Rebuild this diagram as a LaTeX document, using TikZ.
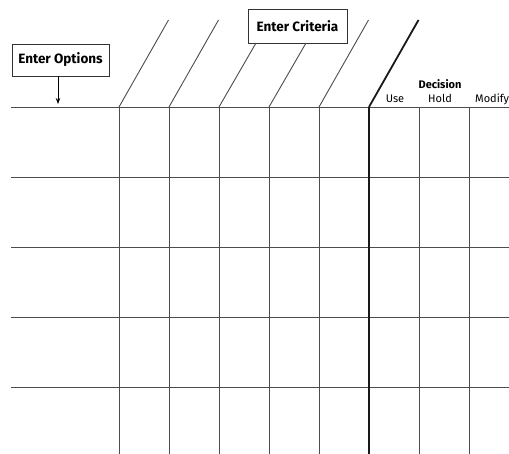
\documentclass[tikz,border=0pt]{standalone}
\usepackage{fontspec}
\setmainfont{Fira Sans}
\usetikzlibrary{arrows.meta}
\begin{document}
\begin{tikzpicture}[x=1pt,y=-1pt,
  gridline/.style={draw=black!70,line width=0.9pt},
  mainline/.style={draw=black!90,line width=1.8pt},
  labelbox/.style={draw=black!80,line width=0.8pt,inner sep=0pt,font=\bfseries\fontsize{13.5}{15}\selectfont},
  colhead/.style={inner sep=0pt,anchor=base,font=\fontsize{11}{13}\selectfont},
]
\clip (0,0) rectangle (509,454);
\fill[white] (0,0) rectangle (509,454);

% header line and row lines
\foreach \y in {107,177,247,317,387}
  \draw[gridline] (11,\y) -- (515,\y);

% column lines
\foreach \x in {119,169,219,269,319,419,469}
  \draw[gridline] (\x,107) -- (\x,460);
\draw[mainline] (369,107) -- (369,460);

% label boxes
\node[labelbox,minimum width=97pt,minimum height=32pt] (opt) at (60.5,60) {Enter Options};
\node[labelbox,minimum width=99pt,minimum height=34pt] (crit) at (297.5,26) {Enter Criteria};

% slanted criterion headings
\coordinate (b1) at (119,107);
\coordinate (b2) at (169,107);
\coordinate (b3) at (219,107);
\coordinate (b4) at (269,107);
\coordinate (b5) at (319,107);
\coordinate (b6) at (369,107);
\coordinate (t1) at (168.5,20);
\coordinate (t2) at (218.5,20);
\coordinate (t3) at (256,43);
\coordinate (t4) at (306,43);
\coordinate (t5) at (368.5,20);
\coordinate (t6) at (418.5,20);
\foreach \i in {1,...,5}
  \draw[gridline] (b\i) -- (t\i);
\draw[mainline] (b6) -- (t6);

% options arrow
\coordinate (arr) at (58,104);
\draw[draw=black,line width=0.8pt,-{Stealth[length=6pt,width=4.5pt]}] (opt.south -| arr) -- (arr);

% decision columns
\node[inner sep=0pt,anchor=base,font=\bfseries\fontsize{11}{13}\selectfont] (dec) at (440,89) {Decision};
\node[colhead] (use) at (395,103) {Use};
\node[colhead] (hold) at (440,103) {Hold};
\node[colhead,anchor=base west] (mod) at (475,103) {Modify};
\end{tikzpicture}
\end{document}
